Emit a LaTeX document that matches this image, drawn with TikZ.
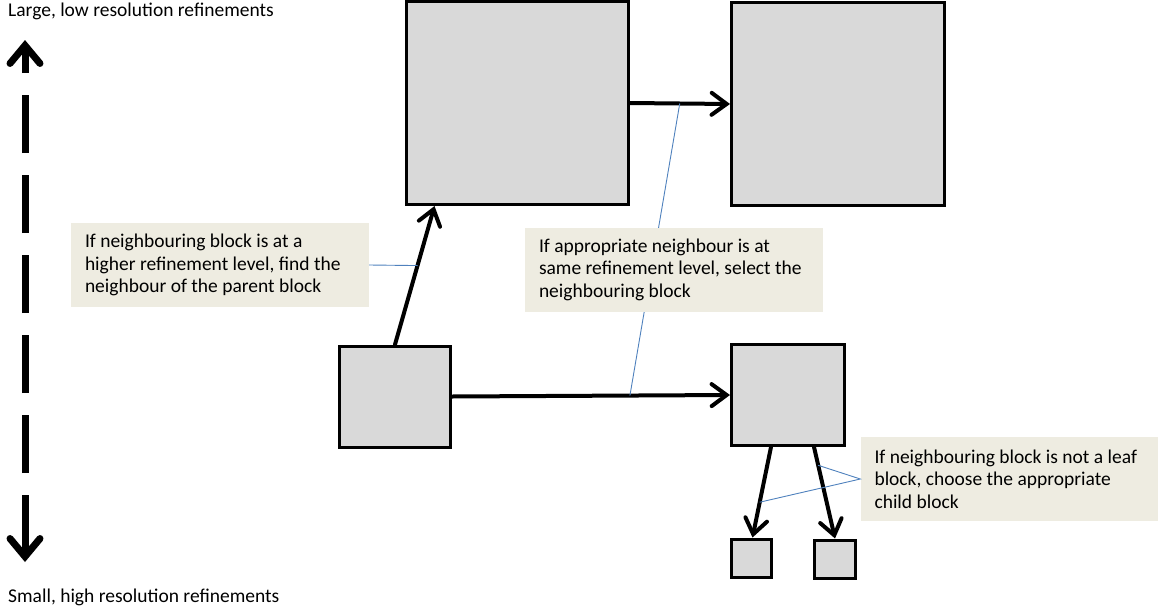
\documentclass[tikz,border=0pt]{standalone}
\usepackage{fontspec}
\setmainfont{Carlito}
\usetikzlibrary{arrows.meta}
\definecolor{blockgray}{HTML}{D9D9D9}
\definecolor{notefill}{HTML}{EEECE1}
\definecolor{leaderblue}{HTML}{4F81BD}
\hyphenpenalty=10000
\exhyphenpenalty=10000

\tikzset{
    block/.style = {draw, line width = 3pt, fill = blockgray, inner sep = 0pt},
    note/.style = {fill = notefill, inner xsep = 12pt, inner ysep = 0pt, text width = 270pt,
        minimum width = 298pt, minimum height = 84pt, align = flush left,
        font = \fontsize{19.5}{22.5}\selectfont},
    label/.style = {inner sep = 0pt, anchor = west, font = \fontsize{19.5}{22.5}\selectfont},
    move/.style = {line width = 4pt, line cap = round,
        -{Straight Barb[length = 15pt, width = 22pt, line cap = round]}},
    leader/.style = {draw = leaderblue, line width = 0.9pt},
    scalearrow/.style = {line width = 7pt, dash pattern = on 58pt off 22pt,
        {Straight Barb[length = 18pt, width = 30pt, line cap = round]}-{Straight Barb[length = 18pt, width = 30pt, line cap = round]}}
}

\begin{document}
\begin{tikzpicture}[x = 1pt, y = -1pt]
        \useasboundingbox (0, 0) rectangle (1158, 613);

        % scale of refinement levels
        \node[label] (large) at (8, 11) {Large, low resolution refinements};
        \node[label] (small) at (8, 597) {Small, high resolution refinements};
        \coordinate (hi) at (25, 40);
        \coordinate (lo) at (25, 562);
        \draw[scalearrow] (lo) -- (hi);

        % blocks
        \node[block, minimum width = 222, minimum height = 203] (parent) at (517, 103) {};
        \node[block, minimum width = 213, minimum height = 203] (parentnbr) at (838, 104) {};
        \node[block, minimum width = 111, minimum height = 101] (cell) at (395, 396.5) {};
        \node[block, minimum width = 113, minimum height = 101] (cellnbr) at (788, 395) {};
        \node[block, minimum width = 40, minimum height = 38] (childa) at (751.5, 558) {};
        \node[block, minimum width = 41, minimum height = 38] (childb) at (835, 559) {};

        % moves between blocks
        \draw[move] (cell.north) -- coordinate[pos = .57] (hit1) ([xshift = 30]parent.south west);
        \draw[move] (parent.east) -- coordinate[pos = .5] (hit2) (parentnbr.west);
        \draw[move] (cell.east) -- coordinate[pos = .64] (hit3) (cellnbr.west);
        \draw[move] ([xshift = -17]cellnbr.south) -- coordinate[pos = .61] (hit4) ([xshift = 1]childa.north);
        \draw[move] ([xshift = 26]cellnbr.south) -- coordinate[pos = .2] (hit5) (childb.north);

        % notes
        \draw[leader] (hit2) -- (hit3);
        \node[note] (higher) at (220, 265) {If neighbouring block is at a higher refinement level, find the neighbour of the parent block};
        \node[note] (same) at (674, 269.5) {If appropriate neighbour is at same refinement level, select the neighbouring block};
        \node[note] (leaf) at (1009.5, 479) {If neighbouring block is not a leaf block, choose the appropriate child block};
        \draw[leader] (higher.east) -- (hit1);
        \draw[leader] (hit5) -- (leaf.west) -- (hit4);
    \end{tikzpicture}
\end{document}
